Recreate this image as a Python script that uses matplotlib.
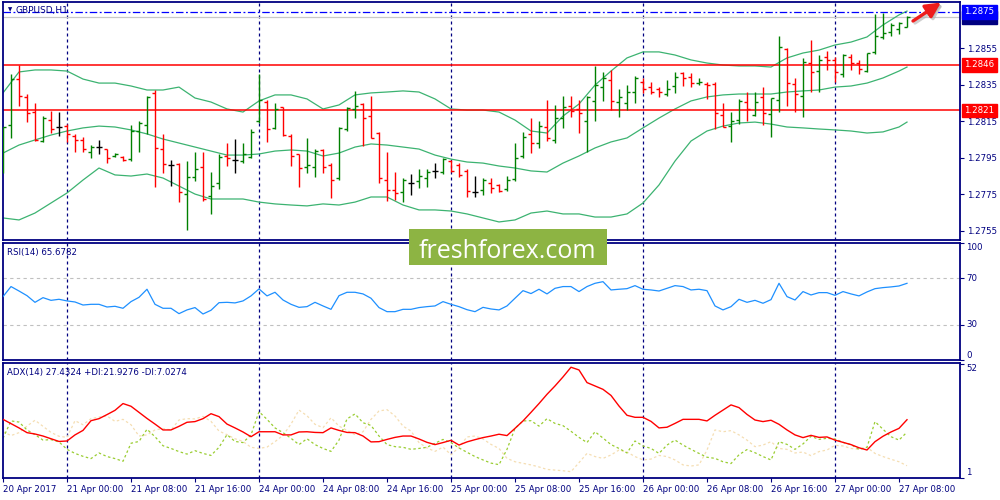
import numpy as np
import matplotlib
matplotlib.use("Agg")
import matplotlib.pyplot as plt
from matplotlib.transforms import blended_transform_factory as btf
from matplotlib.patches import Rectangle

# ---------------- data ----------------
open_ = [1.27910, 1.28130, 1.28382, 1.28284, 1.28201, 1.28042, 1.28157, 1.28119, 1.28124, 1.28070,
         1.28048, 1.27982, 1.28009, 1.27998, 1.27960, 1.27954, 1.27943, 1.28097, 1.28130, 1.28306,
         1.27998, 1.27910, 1.27916, 1.27751, 1.27845, 1.27900, 1.27740, 1.27812, 1.27960, 1.27938,
         1.27932, 1.27954, 1.28152, 1.28256, 1.28114, 1.28229, 1.28070, 1.27971, 1.27900, 1.27900,
         1.27993, 1.27910, 1.27839, 1.28108, 1.28218, 1.28245, 1.28179, 1.28086, 1.27828, 1.27773,
         1.27762, 1.27812, 1.27823, 1.27839, 1.27878, 1.27872, 1.27932, 1.27910, 1.27878, 1.27762,
         1.27773, 1.27812, 1.27801, 1.27779, 1.27834, 1.27960, 1.28081, 1.28031, 1.28119, 1.28048,
         1.28168, 1.28234, 1.28218, 1.28152, 1.28262, 1.28338, 1.28377, 1.28256, 1.28251, 1.28311,
         1.28366, 1.28338, 1.28328, 1.28300, 1.28344, 1.28415, 1.28393, 1.28360, 1.28355, 1.28355,
         1.28185, 1.28124, 1.28157, 1.28256, 1.28185, 1.28284, 1.28190, 1.28267, 1.28547, 1.28355,
         1.28289, 1.28470, 1.28426, 1.28503, 1.28487, 1.28410, 1.28503, 1.28470, 1.28426, 1.28531,
         1.28613, 1.28640, 1.28657, 1.28668]
high = [1.28119, 1.28410, 1.28459, 1.28300, 1.28251, 1.28179, 1.28207, 1.28201, 1.28135, 1.28081,
        1.28064, 1.28020, 1.28048, 1.27998, 1.27976, 1.27960, 1.28130, 1.28152, 1.28289, 1.28322,
        1.28081, 1.27938, 1.27921, 1.27932, 1.27982, 1.27982, 1.27872, 1.27971, 1.28031, 1.28053,
        1.28031, 1.28108, 1.28410, 1.28267, 1.28251, 1.28229, 1.28081, 1.27971, 1.28059, 1.27998,
        1.27998, 1.27921, 1.28119, 1.28229, 1.28317, 1.28251, 1.28289, 1.28092, 1.27982, 1.27872,
        1.27839, 1.27861, 1.27889, 1.27889, 1.27921, 1.27949, 1.27938, 1.27921, 1.27889, 1.27850,
        1.27839, 1.27839, 1.27806, 1.27850, 1.28031, 1.28092, 1.28168, 1.28152, 1.28267, 1.28240,
        1.28289, 1.28289, 1.28267, 1.28289, 1.28454, 1.28421, 1.28432, 1.28328, 1.28349, 1.28399,
        1.28388, 1.28366, 1.28338, 1.28377, 1.28421, 1.28421, 1.28415, 1.28388, 1.28366, 1.28366,
        1.28251, 1.28201, 1.28273, 1.28311, 1.28311, 1.28338, 1.28278, 1.28618, 1.28552, 1.28388,
        1.28498, 1.28596, 1.28514, 1.28536, 1.28503, 1.28520, 1.28520, 1.28487, 1.28525, 1.28739,
        1.28745, 1.28690, 1.28695, 1.28728]
low = [1.27867, 1.28059, 1.28234, 1.28146, 1.28042, 1.28037, 1.28086, 1.28070, 1.28037, 1.27982,
       1.27982, 1.27949, 1.27971, 1.27921, 1.27954, 1.27932, 1.27932, 1.27982, 1.28081, 1.27790,
       1.27867, 1.27795, 1.27707, 1.27554, 1.27823, 1.27713, 1.27642, 1.27779, 1.27905, 1.27867,
       1.27921, 1.27949, 1.28141, 1.28037, 1.28108, 1.28070, 1.27905, 1.27790, 1.27867, 1.27845,
       1.27867, 1.27729, 1.27828, 1.28097, 1.28168, 1.28015, 1.28059, 1.27812, 1.27713, 1.27718,
       1.27707, 1.27746, 1.27784, 1.27790, 1.27839, 1.27861, 1.27872, 1.27845, 1.27735, 1.27735,
       1.27746, 1.27757, 1.27762, 1.27768, 1.27823, 1.27949, 1.27976, 1.28004, 1.28042, 1.28031,
       1.28114, 1.28174, 1.28086, 1.27982, 1.28152, 1.28262, 1.28212, 1.28174, 1.28212, 1.28251,
       1.28306, 1.28300, 1.28284, 1.28289, 1.28306, 1.28344, 1.28338, 1.28349, 1.28273, 1.28108,
       1.28119, 1.28037, 1.28135, 1.28152, 1.28179, 1.28130, 1.28064, 1.28201, 1.28234, 1.28201,
       1.28174, 1.28311, 1.28311, 1.28432, 1.28366, 1.28393, 1.28432, 1.28410, 1.28421, 1.28520,
       1.28602, 1.28618, 1.28629, 1.28668]
close = [1.28119, 1.28382, 1.28289, 1.28196, 1.28048, 1.28168, 1.28108, 1.28119, 1.28081, 1.28048,
         1.27998, 1.28009, 1.28009, 1.27949, 1.27971, 1.27938, 1.28097, 1.28141, 1.28284, 1.28004,
         1.27916, 1.27910, 1.27762, 1.27845, 1.27889, 1.27724, 1.27795, 1.27954, 1.27949, 1.27938,
         1.27971, 1.28092, 1.28267, 1.28108, 1.28218, 1.28075, 1.27960, 1.27894, 1.27910, 1.27987,
         1.27900, 1.27828, 1.28114, 1.28223, 1.28234, 1.28168, 1.28059, 1.27839, 1.27773, 1.27757,
         1.27828, 1.27812, 1.27850, 1.27872, 1.27878, 1.27943, 1.27878, 1.27856, 1.27768, 1.27762,
         1.27828, 1.27784, 1.27768, 1.27828, 1.27949, 1.28064, 1.28031, 1.28124, 1.28059, 1.28168,
         1.28229, 1.28207, 1.28196, 1.28284, 1.28349, 1.28388, 1.28262, 1.28284, 1.28311, 1.28388,
         1.28328, 1.28311, 1.28311, 1.28328, 1.28393, 1.28388, 1.28360, 1.28366, 1.28349, 1.28196,
         1.28119, 1.28152, 1.28262, 1.28218, 1.28256, 1.28196, 1.28278, 1.28558, 1.28360, 1.28300,
         1.28476, 1.28421, 1.28487, 1.28487, 1.28421, 1.28514, 1.28470, 1.28437, 1.28525, 1.28618,
         1.28635, 1.28679, 1.28690, 1.28723]

# Bollinger bands (20,2) read at these bar indices
bb_idx = list(range(0, 113, 2)) + [113]
bb_upper = [1.28306, 1.28421, 1.28432, 1.28432, 1.28426, 1.28382, 1.28360, 1.28360, 1.28344, 1.28322,
            1.28322, 1.28338, 1.28278, 1.28256, 1.28218, 1.28201, 1.28262, 1.28295, 1.28295, 1.28273,
            1.28218, 1.28240, 1.28295, 1.28306, 1.28311, 1.28317, 1.28311, 1.28273, 1.28218, 1.28212,
            1.28212, 1.28201, 1.28157, 1.28097, 1.28086, 1.28179, 1.28245, 1.28349, 1.28426, 1.28498,
            1.28531, 1.28531, 1.28514, 1.28487, 1.28470, 1.28459, 1.28454, 1.28454, 1.28448, 1.28498,
            1.28525, 1.28541, 1.28569, 1.28585, 1.28613, 1.28679, 1.28734, 1.28755]
bb_middle = [1.27976, 1.28020, 1.28048, 1.28075, 1.28097, 1.28114, 1.28124, 1.28119, 1.28103, 1.28081,
             1.28053, 1.28031, 1.28009, 1.27987, 1.27965, 1.27965, 1.27971, 1.27987, 1.27993, 1.27987,
             1.27960, 1.27976, 1.28009, 1.28026, 1.28020, 1.28009, 1.27998, 1.27965, 1.27943, 1.27927,
             1.27921, 1.27905, 1.27894, 1.27878, 1.27872, 1.27921, 1.27960, 1.28004, 1.28037, 1.28059,
             1.28114, 1.28168, 1.28218, 1.28262, 1.28284, 1.28295, 1.28300, 1.28300, 1.28300, 1.28311,
             1.28317, 1.28322, 1.28338, 1.28344, 1.28360, 1.28388, 1.28426, 1.28448]
bb_lower = [1.27620, 1.27609, 1.27647, 1.27702, 1.27757, 1.27828, 1.27894, 1.27856, 1.27850, 1.27861,
            1.27839, 1.27795, 1.27751, 1.27724, 1.27724, 1.27724, 1.27707, 1.27697, 1.27691, 1.27686,
            1.27697, 1.27691, 1.27707, 1.27735, 1.27735, 1.27691, 1.27664, 1.27664, 1.27658, 1.27642,
            1.27620, 1.27598, 1.27609, 1.27647, 1.27658, 1.27642, 1.27642, 1.27625, 1.27625, 1.27642,
            1.27702, 1.27801, 1.27932, 1.28042, 1.28097, 1.28124, 1.28141, 1.28146, 1.28135, 1.28119,
            1.28114, 1.28108, 1.28103, 1.28097, 1.28086, 1.28092, 1.28119, 1.28146]

rsi = [54.3, 62.9, 59.1, 55.1, 49.4, 53.4, 51.1, 52.0, 50.6, 49.7,
       47.1, 47.7, 47.7, 45.4, 46.0, 44.3, 50.0, 53.7, 60.6, 47.7,
       44.3, 44.3, 39.7, 42.9, 44.9, 39.4, 42.6, 49.1, 49.4, 48.9,
       50.6, 54.9, 60.9, 54.9, 58.0, 51.4, 47.7, 45.1, 45.7, 49.4,
       46.3, 43.4, 55.1, 58.0, 58.0, 56.6, 52.9, 44.9, 41.4, 41.4,
       43.4, 43.4, 44.9, 45.7, 46.3, 50.0, 47.7, 45.7, 43.1, 41.4,
       45.1, 43.7, 42.9, 46.3, 52.9, 59.4, 56.9, 60.6, 56.6, 61.4,
       62.9, 62.9, 58.6, 62.9, 65.7, 67.1, 60.0, 60.6, 61.1, 63.7,
       60.6, 60.0, 59.1, 61.4, 63.7, 62.9, 60.0, 60.6, 59.4, 46.3,
       42.9, 45.7, 52.0, 49.4, 51.1, 48.6, 51.7, 65.7, 54.3, 51.4,
       58.6, 55.7, 57.7, 57.7, 55.4, 58.6, 56.6, 54.9, 58.3, 61.1,
       62.0, 62.6, 63.4, 65.6782]

adx = [27.6, 25.7, 23.8, 21.7, 21.1, 20.2, 19.0, 17.8, 18.0, 20.7,
       22.7, 27.0, 27.9, 29.7, 31.6, 34.6, 33.4, 30.7, 28.0, 25.5,
       22.9, 22.9, 24.5, 26.3, 26.6, 27.9, 30.1, 28.8, 25.5, 23.8,
       22.0, 19.9, 22.1, 22.1, 22.1, 20.7, 20.7, 22.0, 22.1, 21.8,
       21.7, 23.8, 22.7, 21.8, 21.7, 20.2, 17.6, 17.7, 18.7, 19.6,
       20.2, 20.2, 18.9, 17.4, 16.4, 17.3, 18.3, 16.2, 17.6, 18.6,
       19.5, 20.2, 21.0, 20.4, 23.6, 26.9, 30.7, 34.6, 38.7, 42.4,
       46.4, 50.7, 49.5, 43.9, 42.4, 40.9, 38.2, 33.5, 29.4, 28.5,
       28.5, 26.7, 23.8, 24.1, 25.8, 27.6, 27.6, 27.6, 26.9, 29.4,
       31.7, 34.0, 32.8, 29.8, 27.3, 26.6, 27.2, 25.4, 22.9, 20.7,
       19.5, 20.5, 19.6, 19.8, 18.4, 17.4, 16.4, 15.0, 14.0, 17.7,
       20.1, 22.0, 23.6, 27.4324]
plus_di = [19.2, 26.9, 26.4, 22.9, 20.8, 18.4, 18.6, 17.6, 14.3, 12.5,
           11.2, 10.2, 12.7, 11.1, 10.2, 9.0, 17.0, 17.8, 23.2, 19.9,
           15.9, 14.7, 13.3, 12.2, 13.7, 12.5, 11.6, 15.2, 20.8, 17.8,
           17.3, 20.7, 31.0, 27.6, 23.8, 21.7, 19.2, 16.4, 19.0, 16.4,
           14.7, 13.4, 18.4, 27.8, 30.0, 26.1, 24.9, 20.2, 16.4, 15.5,
           15.2, 14.3, 14.7, 15.2, 17.0, 18.7, 17.3, 14.9, 13.0, 11.1,
           9.6, 8.2, 7.5, 14.3, 23.6, 26.9, 27.0, 24.6, 27.9, 25.8,
           24.8, 22.3, 19.6, 17.3, 22.1, 19.3, 16.4, 14.7, 12.7, 18.0,
           15.8, 14.7, 12.5, 16.2, 18.4, 16.2, 14.3, 12.5, 10.8, 10.3,
           8.8, 8.0, 11.9, 14.2, 12.8, 11.1, 9.6, 17.7, 16.5, 14.3,
           16.7, 20.1, 18.7, 19.2, 18.9, 17.4, 16.4, 14.3, 15.2, 26.6,
           23.2, 19.9, 18.4, 21.9276]
minus_di = [22.1, 20.4, 21.7, 24.6, 27.2, 24.5, 21.8, 20.1, 19.6, 27.0,
            25.2, 27.9, 28.6, 29.1, 26.7, 27.6, 25.2, 20.2, 20.7, 22.9,
            23.5, 22.9, 27.3, 27.9, 27.8, 28.9, 26.7, 22.4, 20.8, 19.0,
            17.8, 15.2, 14.7, 15.3, 17.7, 20.5, 25.5, 31.7, 29.2, 25.4,
            23.9, 28.3, 24.6, 22.7, 20.8, 22.1, 27.6, 31.3, 31.9, 29.1,
            24.6, 22.4, 17.3, 14.9, 13.4, 15.3, 11.9, 15.2, 19.8, 20.2,
            18.9, 16.5, 14.7, 10.3, 8.8, 8.1, 7.4, 6.5, 5.4, 5.1,
            4.8, 4.4, 8.4, 12.5, 11.1, 10.3, 11.8, 14.0, 13.1, 11.1,
            9.6, 10.0, 11.6, 11.1, 9.6, 7.4, 6.9, 7.4, 14.0, 22.9,
            22.1, 22.6, 20.7, 18.4, 15.5, 16.2, 17.7, 14.7, 14.3, 12.7,
            13.1, 11.5, 13.3, 14.0, 16.1, 15.8, 14.7, 14.3, 15.2, 12.5,
            11.1, 9.9, 8.8, 7.0274]

level_lines = [1.2846, 1.2821]
high_line = 1.2875
bid_line = 1.2872
price_ticks = [1.2855, 1.2835, 1.2815, 1.2795, 1.2775, 1.2755]
sep_bars = [8, 32, 56, 80, 104]
time_pos = [0, 8, 16, 24, 32, 40, 48, 56, 64, 72, 80, 88, 96, 104, 112]
time_labels = ["20 Apr 2017", "21 Apr 00:00", "21 Apr 08:00", "21 Apr 16:00", "24 Apr 00:00",
               "24 Apr 08:00", "24 Apr 16:00", "25 Apr 00:00", "25 Apr 08:00", "25 Apr 16:00",
               "26 Apr 00:00", "26 Apr 08:00", "26 Apr 16:00", "27 Apr 00:00", "27 Apr 08:00"]

# ---------------- style ----------------
W, H = 1000, 500
NAVY = "#000080"
FONT = "DejaVu Sans"
FS = 6.2
plt.rcParams["font.family"] = [FONT]

fig = plt.figure(figsize=(10, 5), dpi=100)
fig.patch.set_facecolor("white")


def rect(x0, y0, x1, y1):
    return [x0 / W, 1 - y1 / H, (x1 - x0) / W, (y1 - y0) / H]


ax = fig.add_axes(rect(2.7, 1.7, 960, 240))
ax_r = fig.add_axes(rect(2.7, 242.5, 960, 360))
ax_a = fig.add_axes(rect(2.7, 363, 960, 478.3))

XL = (-0.0375, 119.625)
for a in (ax, ax_r, ax_a):
    a.set_xlim(*XL)
    a.set_facecolor("white")
    for s in a.spines.values():
        s.set_color(NAVY)
        s.set_linewidth(1.3)
    a.set_xticks([])
    a.tick_params(axis="y", which="both", left=False, right=True, labelleft=False,
                  labelright=False, length=3, color=NAVY, direction="out")
    for b in sep_bars:
        a.axvline(b, color=NAVY, lw=0.9, ls=(0, (2.4, 2.4)), zorder=1)

# ---------------- main chart ----------------
ax.set_ylim(1.274990, 1.288065)
x = np.arange(len(close))
o = np.array(open_); c = np.array(close)
cols = np.where(c > o, "#008000", np.where(c < o, "#ff0000", "#000000"))
ax.vlines(x, low, high, colors=cols, lw=1.0, zorder=3)
ax.hlines(o, x - 0.4, x, colors=cols, lw=1.0, zorder=3)
ax.hlines(c, x, x + 0.4, colors=cols, lw=1.0, zorder=3)

for band in (bb_upper, bb_middle, bb_lower):
    ax.plot(bb_idx, band, color="#3cb371", lw=0.9, zorder=2)

for lv in level_lines:
    ax.axhline(lv, color="#ff0000", lw=1.1, zorder=2)
ax.axhline(bid_line, color="#c8c8c8", lw=0.9, zorder=1)
ax.axhline(high_line, color="#0000ff", lw=0.9, ls=(0, (6, 2, 1.5, 2)), zorder=2)

ax.set_yticks(price_ticks)
ax.tick_params(axis="y", labelright=True, labelsize=FS, labelcolor=NAVY, pad=2)
ax.set_yticklabels([f"{p:.4f}" for p in price_ticks])

tr = btf(ax.transAxes, ax.transData)
def price_box(p, fc, z):
    ax.text(1.0045, p, f"{p:.4f}", transform=tr, ha="left", va="center", fontsize=FS,
            color="white", zorder=z, clip_on=False,
            bbox=dict(boxstyle="square,pad=0.28", fc=fc, ec=fc))
price_box(bid_line, NAVY, 20)
price_box(high_line, "#0000ff", 21)
for lv in level_lines:
    price_box(lv, "#ff0000", 20)

fig.text(8 / W, 1 - 9.5 / H, "\u25BC", fontsize=4, color=NAVY, va="center", ha="left")
fig.text(16 / W, 1 - 10 / H, "GBPUSD,H1", fontsize=FS + 0.3, color=NAVY, va="center", ha="left")

# ---------------- RSI ----------------
ax_r.set_ylim(0, 100.64)
ax_r.plot(x, rsi, color="#1e90ff", lw=0.9, zorder=3)
for lv in (70, 30):
    ax_r.axhline(lv, color="#c0c0c0", lw=0.8, ls=(0, (3, 3)), zorder=1)
ax_r.set_yticks([100, 70, 30, 0])
trr = btf(ax_r.transAxes, ax_r.transData)
for v, va in ((100, "top"), (70, "center"), (30, "center"), (0, "bottom")):
    ax_r.text(1.0065, v, str(v), transform=trr, ha="left", va=va, fontsize=FS, color=NAVY,
              clip_on=False)
fig.text(7 / W, 1 - 252 / H, f"RSI(14) {rsi[-1]:.4f}", fontsize=FS, color=NAVY,
         va="center", ha="left")

# ---------------- ADX ----------------
ax_a.set_ylim(1.46, 52.58)
ax_a.plot(x, minus_di, color="#f5deb3", lw=0.9, ls=(0, (2, 2)), zorder=2)
ax_a.plot(x, plus_di, color="#9acd32", lw=0.9, ls=(0, (2, 2)), zorder=2)
ax_a.plot(x, adx, color="#ff0000", lw=1.0, zorder=3)
ax_a.set_yticks([52, 1.8])
tra = btf(ax_a.transAxes, ax_a.transData)
ax_a.text(1.0065, 52.3, "52", transform=tra, ha="left", va="top", fontsize=FS, color=NAVY,
          clip_on=False)
ax_a.text(1.0065, 1.9, "1", transform=tra, ha="left", va="bottom", fontsize=FS, color=NAVY,
          clip_on=False)
fig.text(7 / W, 1 - 372 / H,
         f"ADX(14) {adx[-1]:.4f} +DI:{plus_di[-1]:.4f} -DI:{minus_di[-1]:.4f}",
         fontsize=FS, color=NAVY, va="center", ha="left")

# time axis
ax_a.set_xticks(time_pos)
ax_a.tick_params(axis="x", bottom=True, labelbottom=False, length=3, color=NAVY,
                 direction="out")
trt = btf(ax_a.transData, ax_a.transAxes)
for p, lab in zip(time_pos, time_labels):
    ax_a.text(p + 0.05, -0.093, lab, transform=trt, ha="left", va="center", fontsize=FS,
              color=NAVY, clip_on=False)

# ---------------- watermark & arrow ----------------
fig.add_artist(Rectangle((409 / W, 1 - 265.3 / H), (607 - 409) / W, (265.3 - 228.7) / H,
                         transform=fig.transFigure, fc="#8db443", ec="none", zorder=30))
fig.text(507.5 / W, 1 - 257.5 / H, "freshforex.com", fontsize=18, color="white",
         family=["Open Sans", "DejaVu Sans"], ha="center", va="baseline", zorder=31)

fig.patches.append(Rectangle((0, 0), 0, 0, transform=fig.transFigure, visible=False))
ax.annotate("", xy=(943 / W, 1 - 4.5 / H), xytext=(915 / W, 1 - 23 / H),
            xycoords="figure fraction", textcoords="figure fraction",
            arrowprops=dict(arrowstyle="-|>,head_length=0.9,head_width=0.45", color="#b0b0b0",
                            lw=2.4, shrinkA=0, shrinkB=0, alpha=0.6),
            annotation_clip=False, zorder=40)
ax.annotate("", xy=(941 / W, 1 - 2.5 / H), xytext=(913 / W, 1 - 21 / H),
            xycoords="figure fraction", textcoords="figure fraction",
            arrowprops=dict(arrowstyle="-|>,head_length=0.9,head_width=0.45", color="#ee1c1c",
                            lw=2.4, shrinkA=0, shrinkB=0),
            annotation_clip=False, zorder=41)

fig.savefig("out.png", dpi=100, facecolor="white")
